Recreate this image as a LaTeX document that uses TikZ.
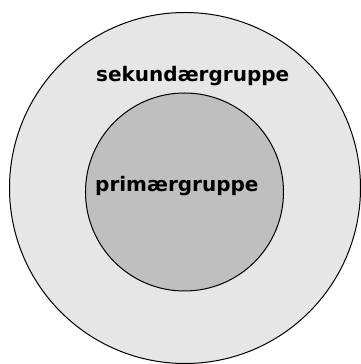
\documentclass[tikz,border=0pt]{standalone}
\usepackage{fontspec}
\setmainfont{DejaVu Sans}
\begin{document}
\begin{tikzpicture}[x=1pt, y=1pt, line cap=round, line join=round]
\definecolor{grpouter}{HTML}{E6E6E6}
\definecolor{grpinner}{HTML}{BFBFBF}
\tikzset{
  grpring/.style={circle, draw=black, line width=1pt, inner sep=0pt},
  grplabel/.style={font=\bfseries\fontsize{20}{24}\selectfont, anchor=base west, inner sep=0pt}
}
\useasboundingbox (0,0) rectangle (361,364);
% ---- the two groups ----
\node[grpring, fill=grpouter, minimum size=351pt] (secondary) at (185,176) {};
\node[grpring, fill=grpinner, minimum size=198pt] (primary) at (184.5,172) {};
% ---- labels ----
\node[grplabel] (secondarylab) at (96,282) {sekundærgruppe};
\node[grplabel] (primarylab) at (95,172.5) {primærgruppe};
\end{tikzpicture}
\end{document}
